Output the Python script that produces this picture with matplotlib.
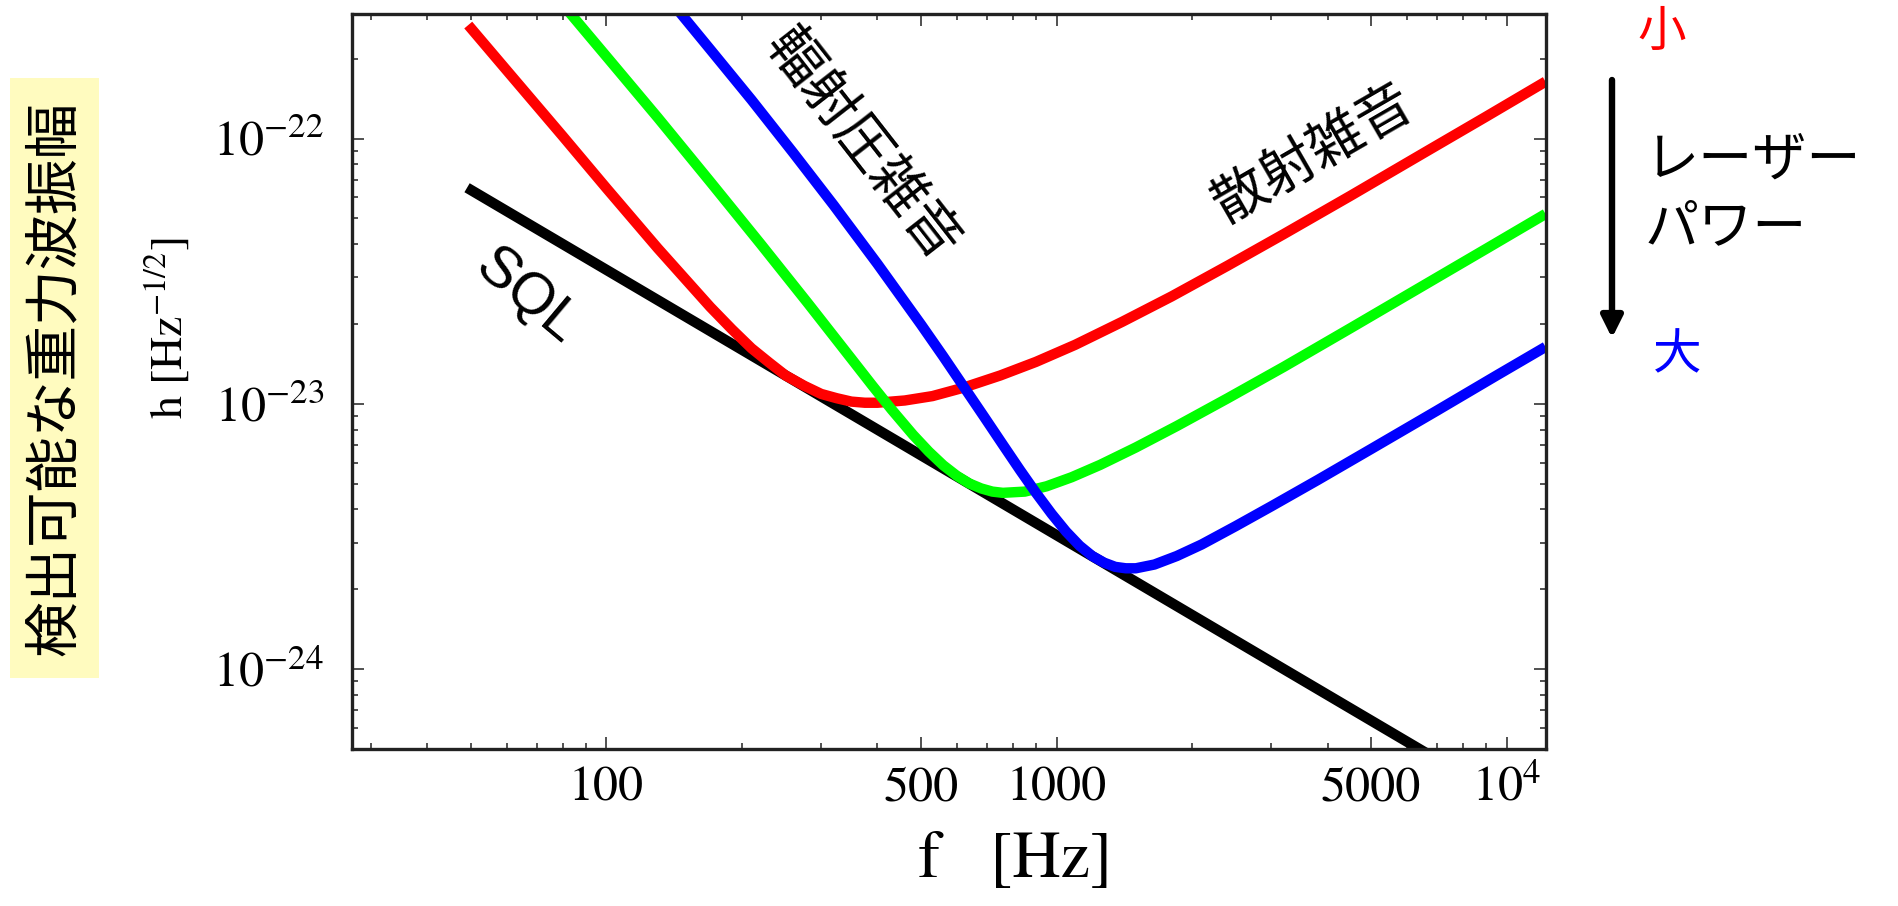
import numpy as np
import matplotlib.pyplot as plt
from matplotlib.ticker import FixedLocator, FixedFormatter, LogLocator, NullFormatter
from matplotlib.patches import Rectangle, FancyArrowPatch

plt.rcParams['mathtext.fontset'] = 'stix'
plt.rcParams['font.family'] = ['STIXGeneral', 'DejaVu Sans']

JP = ['Noto Sans CJK JP', 'DejaVu Sans']

# standard quantum limit
sql_f = [49, 7000]
sql_h = [6.53e-23, 4.57e-25]

# low laser power
red_f = [49.3, 60, 80, 100, 130, 170, 190, 210, 230, 250, 275, 300, 325, 350, 375, 400,
         460, 530, 620, 750, 900, 1100, 1400, 1800, 2400, 3200, 4500, 6500, 9000, 12200]
red_h = [2.68e-22, 1.81e-22, 1.02e-22, 6.50e-23, 3.86e-23, 2.32e-23, 1.91e-23, 1.62e-23,
         1.43e-23, 1.28e-23, 1.17e-23, 1.09e-23, 1.05e-23, 1.02e-23, 1.01e-23, 1.01e-23,
         1.03e-23, 1.07e-23, 1.15e-23, 1.28e-23, 1.44e-23, 1.67e-23, 2.04e-23, 2.54e-23,
         3.32e-23, 4.37e-23, 6.09e-23, 8.77e-23, 1.21e-22, 1.64e-22]

# medium laser power
green_f = [80, 100, 130, 170, 220, 280, 350, 390, 430, 480, 520, 560, 600, 640, 680, 720,
           760, 850, 950, 1080, 1250, 1500, 1850, 2400, 3200, 4500, 6500, 9000, 12200]
green_h = [3.20e-22, 2.04e-22, 1.20e-22, 6.88e-23, 4.01e-23, 2.40e-23, 1.48e-23, 1.17e-23,
           9.52e-24, 7.64e-24, 6.61e-24, 5.87e-24, 5.36e-24, 5.01e-24, 4.80e-24, 4.67e-24,
           4.62e-24, 4.67e-24, 4.89e-24, 5.29e-24, 5.89e-24, 6.85e-24, 8.25e-24, 1.05e-23,
           1.38e-23, 1.93e-23, 2.78e-23, 3.84e-23, 5.20e-23]

# high laser power
blue_f = [140, 170, 210, 260, 320, 400, 500, 560, 620, 690, 760, 830, 900, 975, 1050, 1125,
          1200, 1275, 1350, 1425, 1500, 1650, 1850, 2100, 2500, 3000, 3800, 5000, 7000,
          9500, 12200]
blue_h = [3.24e-22, 2.17e-22, 1.40e-22, 8.84e-23, 5.60e-23, 3.37e-23, 1.99e-23, 1.51e-23,
          1.17e-23, 8.95e-24, 7.01e-24, 5.62e-24, 4.62e-24, 3.85e-24, 3.30e-24, 2.92e-24,
          2.67e-24, 2.52e-24, 2.43e-24, 2.40e-24, 2.40e-24, 2.48e-24, 2.67e-24, 2.95e-24,
          3.46e-24, 4.11e-24, 5.16e-24, 6.76e-24, 9.43e-24, 1.28e-23, 1.64e-23]

x_ticks = [100, 500, 1000, 5000, 10000]
x_tick_labels = ['100', '500', '1000', '5000', r'$10^4$']
y_ticks = [1e-24, 1e-23, 1e-22]
y_tick_labels = [r'$10^{-24}$', r'$10^{-23}$', r'$10^{-22}$']

W, H = 1899, 906
fig = plt.figure(figsize=(W / 100, H / 100), dpi=100)
ax = fig.add_axes([352 / W, 1 - 749 / H, (1546 - 352) / W, (749 - 14) / H])

lw = 7.5
ax.plot(sql_f, sql_h, color='black', lw=lw, solid_capstyle='butt')
ax.plot(red_f, red_h, color='#ff0000', lw=lw, solid_capstyle='butt')
ax.plot(green_f, green_h, color='#00ff00', lw=lw, solid_capstyle='butt')
ax.plot(blue_f, blue_h, color='#0000ff', lw=lw, solid_capstyle='butt')

ax.set_xscale('log')
ax.set_yscale('log')
ax.set_xlim(27.2, 12230)
ax.set_ylim(5.0e-25, 2.95e-22)

ax.xaxis.set_major_locator(FixedLocator(x_ticks))
ax.xaxis.set_major_formatter(FixedFormatter(x_tick_labels))
ax.xaxis.set_minor_locator(LogLocator(base=10, subs=np.arange(2, 10), numticks=20))
ax.xaxis.set_minor_formatter(NullFormatter())
ax.yaxis.set_major_locator(FixedLocator(y_ticks))
ax.yaxis.set_major_formatter(FixedFormatter(y_tick_labels))
ax.yaxis.set_minor_locator(LogLocator(base=10, subs=np.arange(2, 10), numticks=20))
ax.yaxis.set_minor_formatter(NullFormatter())

ax.tick_params(which='both', direction='in', top=True, right=True, color='#333333', width=1.2)
ax.tick_params(which='major', length=8.6)
ax.tick_params(which='minor', length=4)
ax.tick_params(axis='x', which='major', labelsize=36, pad=12)
ax.tick_params(axis='y', which='major', labelsize=36, pad=20)
for sp in ax.spines.values():
    sp.set_linewidth(2.4)
    sp.set_color('#222222')

# labels on the curves
fig.text(527 / W, 1 - 297 / H, 'SQL', family='Liberation Sans', size=42,
         rotation=-40, ha='center', va='center', rotation_mode='anchor')
fig.text(862 / W, 1 - 146 / H, '輻射圧雑音', family=JP, size=40,
         rotation=-52, ha='center', va='center', rotation_mode='anchor')
fig.text(1314 / W, 1 - 155 / H, '散射雑音', family=JP, size=40,
         rotation=30, ha='center', va='center', rotation_mode='anchor')

# axis labels
fig.text(1015 / W, 1 - 862 / H, 'f   [Hz]', size=48, ha='center', va='center')
fig.text(168 / W, 1 - 328 / H, r'h $[\mathrm{Hz}^{-1/2}]$', size=33,
         rotation=90, ha='center', va='center')
fig.add_artist(Rectangle((10 / W, 1 - 678 / H), 89 / W, 600 / H,
                         transform=fig.transFigure, facecolor='#fffbbf', edgecolor='none'))
fig.text(55 / W, 1 - 378 / H, '検出可能な重力波振幅', family=JP, size=40,
         rotation=90, ha='center', va='center')

# laser power legend on the right
fig.text(1662 / W, 1 - 32 / H, '小', family=JP, size=35, color='#ff0000',
         ha='center', va='center')
fig.text(1677 / W, 1 - 356 / H, '大', family=JP, size=35, color='#0000ff',
         ha='center', va='center')
fig.text(1645 / W, 1 - 160 / H, 'レーザー', family=JP, size=39, ha='left', va='center')
fig.text(1645 / W, 1 - 228 / H, 'パワー', family=JP, size=39, ha='left', va='center')
fig.add_artist(FancyArrowPatch((1612 / W, 1 - 80 / H), (1612 / W, 1 - 338 / H),
                               transform=fig.transFigure, arrowstyle='-|>',
                               mutation_scale=32, lw=4.6, color='black',
                               shrinkA=0, shrinkB=0))

fig.savefig('out.png', dpi=100)
